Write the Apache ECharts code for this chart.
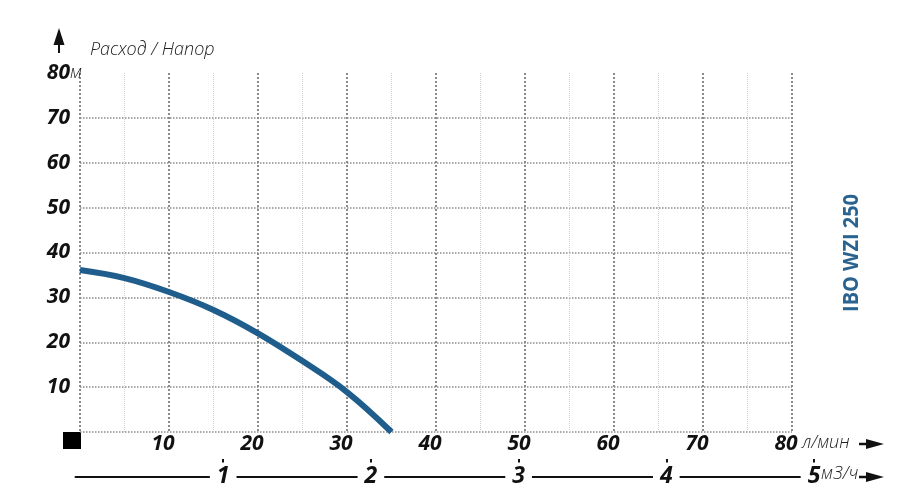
<!DOCTYPE html>
<html><head><meta charset="utf-8">
<script src="https://cdn.jsdelivr.net/npm/echarts@6/dist/echarts.min.js"></script>
<style>html,body{margin:0;padding:0;background:#fff}#c{width:915px;height:501px}</style>
</head><body><div id="c"></div>
<script>
// ---- data ----
const flowLpm = [0, 5, 10, 15, 20, 25, 30, 35];
const headM   = [36.1, 34.3, 31.2, 27.2, 22.0, 15.8, 8.9, 0];
const lpmTicks = [10, 20, 30, 40, 50, 60, 70, 80];
const m3hTicks = [1, 2, 3, 4, 5];
const headTicks = [10, 20, 30, 40, 50, 60, 70, 80];
const modelName = 'IBO WZI 250';
const axisTitle = 'Расход / Напор';
const headUnit = 'м';
const lpmUnit = 'л/мин';
const m3hUnit = 'м3/ч';

// ---- chart ----
const BOLD = {fontFamily: 'Open Sans', fontWeight: 'bold', fontStyle: 'italic', color: '#111'};
const LIGHT = {fontFamily: 'Open Sans', fontWeight: 300, fontStyle: 'italic', color: '#222', fontSize: 18};
const blue = '#1f5e8c';
const splitColors = [];
for (let v = 0; v <= 80; v += 10) splitColors.push(v === 80 ? 'rgba(0,0,0,0)' : '#8a8a8a');

function arrowRight(x, y) {
  return [
    {type: 'line', shape: {x1: x, y1: y, x2: x + 10, y2: y}, style: {stroke: '#111', lineWidth: 2.5}},
    {type: 'polygon', shape: {points: [[x + 7, y - 5], [x + 25, y], [x + 7, y + 5]]}, style: {fill: '#111'}}
  ];
}
function unitTitle(text, left, top) {
  return {text: text, left: left, top: top, padding: 0, textStyle: Object.assign({}, LIGHT)};
}

const chart = echarts.init(document.getElementById('c'), null, {renderer: 'canvas'});
chart.setOption({
  animation: false,
  backgroundColor: '#fff',
  title: [
    {text: axisTitle, left: 90, top: 41, padding: 0, textStyle: Object.assign({}, LIGHT)},
    unitTitle(headUnit, 70, 64),
    unitTitle(lpmUnit, 802, 434),
    unitTitle(m3hUnit, 821, 465)
  ],
  grid: [
    {left: 80, right: 123, top: 73, bottom: 69},
    {left: 75.5, right: 101, top: 455, bottom: 36}
  ],
  xAxis: [
    {gridIndex: 0, type: 'value', position: 'bottom', min: 0, max: 80, interval: 10,
     axisLine: {show: false}, axisTick: {show: false},
     minorTick: {show: false, splitNumber: 2},
     minorSplitLine: {show: true, lineStyle: {color: '#cfcfcf', type: 'dotted', width: 1}},
     splitLine: {show: true, lineStyle: {color: '#8a8a8a', type: 'dotted', width: 2}},
     axisLabel: Object.assign({margin: 12, verticalAlign: 'middle', fontSize: 21, padding: [0, 12, 0, 0],
       customValues: lpmTicks}, BOLD)},
    {gridIndex: 1, type: 'value', position: 'bottom', min: 0, max: 5, interval: 1,
     axisLine: {show: false},
     axisTick: {show: true, inside: true, length: 6, customValues: m3hTicks, lineStyle: {color: '#111', width: 2}},
     axisLabel: {show: false}, splitLine: {show: false}},
    {gridIndex: 1, type: 'value', position: 'bottom', min: 0, max: 5, interval: 1, offset: 12,
     axisLine: {show: true, lineStyle: {color: '#111', width: 2}},
     axisTick: {show: false}, splitLine: {show: false},
     axisLabel: Object.assign({margin: -1, verticalAlign: 'middle', fontSize: 23, backgroundColor: '#fff',
       padding: [2, 7], customValues: m3hTicks}, BOLD)}
  ],
  yAxis: [
    {gridIndex: 0, type: 'value', min: 0, max: 80, interval: 10,
     axisLine: {show: false}, axisTick: {show: false},
     splitLine: {show: true, lineStyle: {color: splitColors, type: 'dotted', width: 1.5}},
     axisLabel: Object.assign({margin: 10, fontSize: 21, customValues: headTicks}, BOLD)},
    {gridIndex: 1, type: 'value', min: 0, max: 1, show: false}
  ],
  graphic: [
    {type: 'rect', shape: {x: 63, y: 432, width: 18, height: 17}, style: {fill: '#000'}},
    {type: 'polygon', shape: {points: [[59, 28], [64.5, 45], [53.5, 45]]}, style: {fill: '#111'}},
    {type: 'line', shape: {x1: 59, y1: 43, x2: 59, y2: 53}, style: {stroke: '#111', lineWidth: 2}},
    ...arrowRight(859, 444),
    ...arrowRight(859, 477),
    {type: 'text', x: 852, y: 253, rotation: Math.PI / 2, scaleX: 0.95,
     style: {text: modelName, fill: '#2b6390', fontFamily: 'Open Sans',
       fontWeight: 'bold', fontSize: 21, align: 'center', verticalAlign: 'middle',
       textAlign: 'center', textVerticalAlign: 'middle'}}
  ],
  series: [{
    type: 'line', xAxisIndex: 0, yAxisIndex: 0,
    data: flowLpm.map((x, i) => [x, headM[i]]),
    smooth: 0.4, symbol: 'none',
    lineStyle: {color: blue, width: 6}
  }]
});
</script></body></html>
